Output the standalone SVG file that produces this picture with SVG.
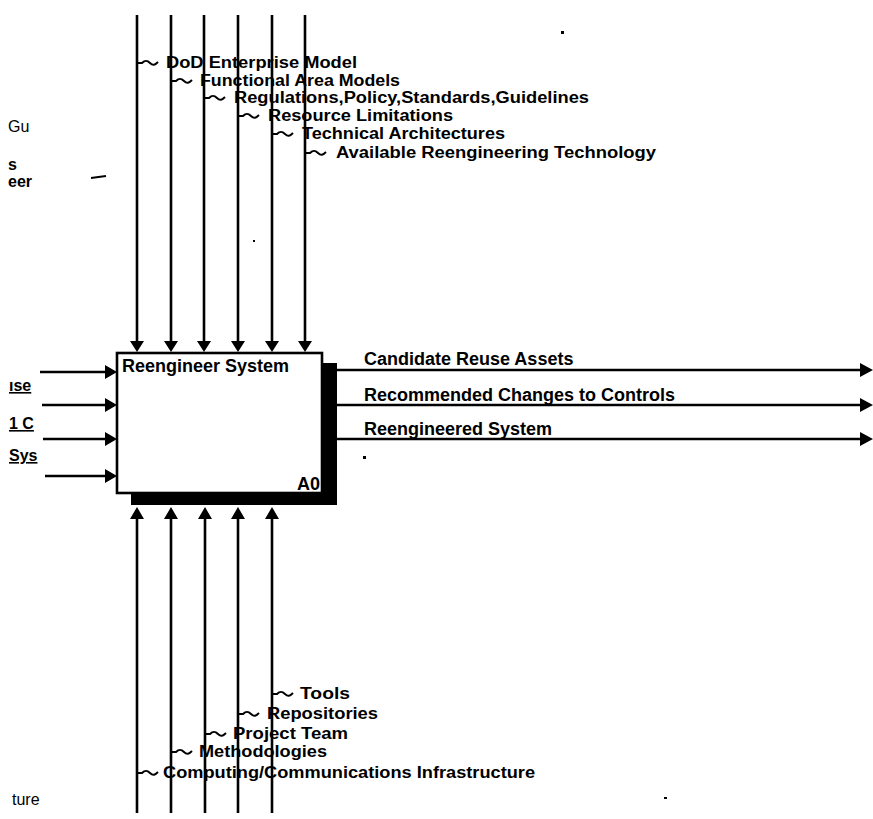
<svg xmlns="http://www.w3.org/2000/svg" width="873" height="819" viewBox="0 0 873 819">
<style>
.t{font-family:"Liberation Sans",Arial,sans-serif;font-size:18px;font-weight:bold;fill:#000}
.s{font-family:"Liberation Sans",Arial,sans-serif;font-size:16px;font-weight:bold;fill:#000}
.f{font-family:"Liberation Sans",Arial,sans-serif;font-size:16px;fill:#000}
.ln{stroke:#000;stroke-width:2.6;fill:none}
.sq{stroke:#000;stroke-width:2;fill:none}
.ah{fill:#000}
</style>
<rect width="873" height="819" fill="#fff"/>
<g id="connectors">
  <path class="ln" d="M137,15V342M171,15V342M204,15V342M238,15V342M272,15V342M305,15V342"/>
  <path class="ah" d="M130,341h14l-7,11zM164,341h14l-7,11zM197,341h14l-7,11zM231,341h14l-7,11zM265,341h14l-7,11zM298,341h14l-7,11z"/>
  <path class="ln" d="M137,517V813M171,517V813M205,517V813M238,517V813M272,517V813"/>
  <path class="ah" d="M130,519h14l-7,-12zM164,519h14l-7,-12zM198,519h14l-7,-12zM231,519h14l-7,-12zM265,519h14l-7,-12z"/>
  <path class="ln" d="M40,372H106M42,405H106M43,439H106M45,476H106"/>
  <path class="ah" d="M105,365v14l12,-7zM105,398v14l12,-7zM105,432v14l12,-7zM105,469v14l12,-7z"/>
  <path class="ln" d="M337,370H862M337,405H862M337,439H862"/>
  <path class="ah" d="M860,363v14l13,-7zM860,398v14l13,-7zM860,432v14l13,-7z"/>
  <path class="sq" d="M138,63h4c3,-3 5,-3 8,0s5,2 8,-1M172,81h4c3,-3 5,-3 8,0s5,2 8,-1M205,98h4c3,-3 5,-3 8,0s5,2 8,-1M239,116h4c3,-3 5,-3 8,0s5,2 8,-1M273,134h4c3,-3 5,-3 8,0s5,2 8,-1M306,153h4c3,-3 5,-3 8,0s5,2 8,-1"/>
  <path class="sq" d="M273,694h4c3,-3 5,-3 8,0s5,2 8,-1M239,714h4c3,-3 5,-3 8,0s5,2 8,-1M206,734h4c3,-3 5,-3 8,0s5,2 8,-1M172,752h4c3,-3 5,-3 8,0s5,2 8,-1M138,773h4c3,-3 5,-3 8,0s5,2 8,-1"/>
</g>
<g id="A0">
  <rect x="322" y="363" width="15" height="142" fill="#000"/>
  <rect x="131" y="493" width="206" height="12" fill="#000"/>
  <rect x="117" y="353" width="205" height="140" fill="#fff" stroke="#000" stroke-width="2.6"/>
  <text class="t" x="122" y="372">Reengineer System</text>
  <text class="t" x="297" y="490">A0</text>
</g>
<g id="control-labels">
  <text class="s" x="166" y="68" textLength="191" lengthAdjust="spacingAndGlyphs">DoD Enterprise Model</text>
  <text class="s" x="200" y="86" textLength="200" lengthAdjust="spacingAndGlyphs">Functional Area Models</text>
  <text class="s" x="234" y="103" textLength="355" lengthAdjust="spacingAndGlyphs">Regulations,Policy,Standards,Guidelines</text>
  <text class="s" x="268" y="121" textLength="185" lengthAdjust="spacingAndGlyphs">Resource Limitations</text>
  <text class="s" x="302" y="139" textLength="203" lengthAdjust="spacingAndGlyphs">Technical Architectures</text>
  <text class="s" x="336" y="158" textLength="320" lengthAdjust="spacingAndGlyphs">Available Reengineering Technology</text>
</g>
<g id="output-labels">
  <text class="t" x="364" y="365">Candidate Reuse Assets</text>
  <text class="t" x="364" y="401">Recommended Changes to Controls</text>
  <text class="t" x="364" y="435">Reengineered System</text>
</g>
<g id="mechanism-labels">
  <text class="s" x="300" y="699" textLength="50" lengthAdjust="spacingAndGlyphs">Tools</text>
  <text class="s" x="267" y="719" textLength="111" lengthAdjust="spacingAndGlyphs">Repositories</text>
  <text class="s" x="233" y="739" textLength="115" lengthAdjust="spacingAndGlyphs">Project Team</text>
  <text class="s" x="199" y="757" textLength="128" lengthAdjust="spacingAndGlyphs">Methodologies</text>
  <text class="s" x="163" y="778" textLength="372" lengthAdjust="spacingAndGlyphs">Computing/Communications Infrastructure</text>
</g>
<g id="left-fragments">
  <text class="f" x="8" y="132" font-size="17">Gu</text>
  <text class="f" x="8" y="170" font-size="12" font-weight="bold">s</text>
  <text class="f" x="8" y="187" font-size="13" font-weight="bold">eer</text>
  <path d="M91,178l15,-2" stroke="#000" stroke-width="2"/>
  <text class="f" x="9" y="391" font-weight="bold" text-decoration="underline">ıse</text>
  <text class="f" x="9" y="429" font-weight="bold" text-decoration="underline">1 C</text>
  <text class="f" x="9" y="461" font-weight="bold" text-decoration="underline">Sys</text>
  <text class="f" x="12" y="805">ture</text>
</g>
<g id="specks" fill="#000">
  <rect x="561" y="31" width="3" height="3"/>
  <rect x="363" y="456" width="3" height="3"/>
  <rect x="664" y="797" width="3" height="2"/>
  <rect x="253" y="240" width="2" height="2"/>
</g>
</svg>
